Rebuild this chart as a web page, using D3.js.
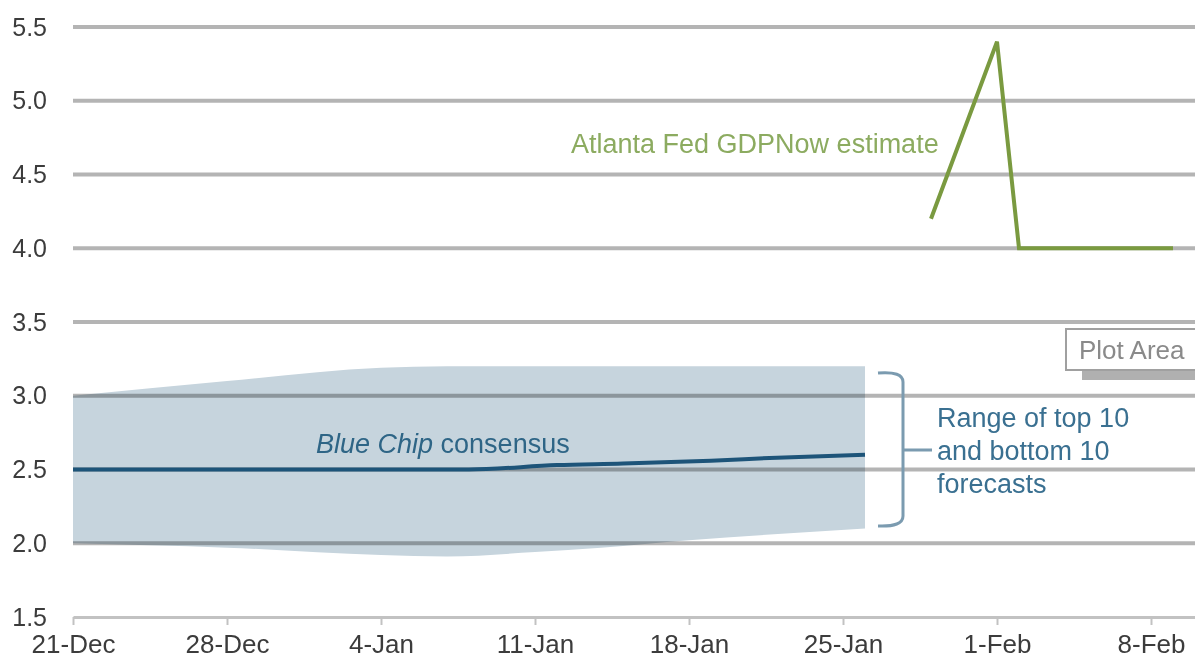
<!DOCTYPE html>
<html><head><meta charset="utf-8">
<script src="https://cdn.jsdelivr.net/npm/d3@7"></script>
<style>
html,body{margin:0;padding:0;background:#fff;}
svg{display:block;font-family:"Liberation Sans",Arial,sans-serif;}
</style></head>
<body>
<svg id="chart" width="1195" height="660"></svg>
<script>
// ---- data ----
const yTicks = [1.5, 2.0, 2.5, 3.0, 3.5, 4.0, 4.5, 5.0, 5.5];
const xTickDates = ["2015-12-21","2015-12-28","2016-01-04","2016-01-11","2016-01-18","2016-01-25","2016-02-01","2016-02-08"];

const bandDates = ["2015-12-21","2015-12-28","2016-01-04","2016-01-07","2016-01-11","2016-01-14","2016-01-18","2016-01-26"];
const bandHigh  = [3.0, 3.1, 3.19, 3.2, 3.2, 3.2, 3.2, 3.2];
const bandLow   = [2.0, 1.97, 1.92, 1.91, 1.94, 1.97, 2.02, 2.1];

const blueChipDates  = ["2015-12-21","2016-01-08","2016-01-12","2016-01-15","2016-01-19","2016-01-22","2016-01-26"];
const blueChipValues = [2.5, 2.5, 2.53, 2.54, 2.56, 2.58, 2.6];

const gdpNowDates  = ["2016-01-29","2016-02-01","2016-02-02","2016-02-05","2016-02-09"];
const gdpNowValues = [4.2, 5.4, 4.0, 4.0, 4.0];

// ---- scales ----
const parse = d3.utcParse("%Y-%m-%d");
const svg = d3.select("#chart");
const x = d3.scaleUtc().domain([parse("2015-12-21"), parse("2016-02-10")]).range([73, 1195]);
const y = d3.scaleLinear().domain([1.5, 5.5]).range([617, 27]);

// band
const band = bandDates.map((d,i)=>({d:parse(d), hi:bandHigh[i], lo:bandLow[i]}));
svg.append("path")
  .datum(band)
  .attr("fill", "#c6d4dd")
  .attr("d", d3.area().x(d=>x(d.d)).y0(d=>y(d.lo)).y1(d=>y(d.hi)).curve(d3.curveMonotoneX));

// gridlines
svg.append("g").selectAll("line")
  .data(yTicks.filter(v=>v>1.5))
  .join("line")
  .attr("x1", x.range()[0]).attr("x2", x.range()[1])
  .attr("y1", d=>y(d)).attr("y2", d=>y(d))
  .attr("stroke", "#b4b4b4").attr("stroke-width", 4)
  .style("mix-blend-mode", "multiply");

// x axis
const xAxis = d3.axisBottom(x)
  .tickValues(xTickDates.map(parse))
  .tickFormat(d3.utcFormat("%-d-%b"))
  .tickSizeInner(8).tickSizeOuter(0).tickPadding(10);
const gx = svg.append("g").attr("transform", `translate(0,${y(1.5)})`).call(xAxis);
gx.select(".domain").attr("stroke", "#c2c2c2").attr("stroke-width", 3);
gx.selectAll(".tick line").attr("stroke", "#c2c2c2").attr("stroke-width", 2);
gx.selectAll(".tick text").attr("fill", "#3c3c3c").attr("font-size", 26)
  .attr("font-family", "'Liberation Sans', Arial, sans-serif");

// y axis labels
const yAxis = d3.axisLeft(y).tickValues(yTicks).tickFormat(d3.format(".1f")).tickSize(0).tickPadding(0);
const gy = svg.append("g").attr("transform", "translate(47,0)").call(yAxis);
gy.select(".domain").remove();
gy.selectAll(".tick text").attr("fill", "#3c3c3c").attr("font-size", 25)
  .attr("font-family", "'Liberation Sans', Arial, sans-serif");

// Blue Chip line
svg.append("path")
  .datum(blueChipDates.map((d,i)=>({d:parse(d), v:blueChipValues[i]})))
  .attr("fill", "none").attr("stroke", "#1d5479").attr("stroke-width", 4)
  .attr("d", d3.line().x(d=>x(d.d)).y(d=>y(d.v)).curve(d3.curveMonotoneX));

// GDPNow line
svg.append("path")
  .datum(gdpNowDates.map((d,i)=>({d:parse(d), v:gdpNowValues[i]})))
  .attr("fill", "none").attr("stroke", "#7a9a40").attr("stroke-width", 4)
  .attr("stroke-linejoin", "miter")
  .attr("d", d3.line().x(d=>x(d.d)).y(d=>y(d.v)));

// annotations
svg.append("text").attr("x", 571).attr("y", 153)
  .attr("font-size", 27).attr("fill", "#8cab60")
  .text("Atlanta Fed GDPNow estimate");

const bc = svg.append("text").attr("x", 316).attr("y", 453)
  .attr("font-size", 27).attr("fill", "#2e6586");
bc.append("tspan").attr("font-style", "italic").text("Blue Chip");
bc.append("tspan").text(" consensus");

const rangeLines = ["Range of top 10", "and bottom 10", "forecasts"];
svg.append("g").selectAll("text").data(rangeLines).join("text")
  .attr("x", 937).attr("y", (d,i)=>427 + i*33)
  .attr("font-size", 27).attr("fill", "#3a7091")
  .text(d=>d);

// bracket
svg.append("path")
  .attr("d", "M878,373 Q903,371 903,382 L903,516 Q903,527 878,526 M903,450 L932,450")
  .attr("fill", "none").attr("stroke", "#7b9bb0").attr("stroke-width", 3);

// "Plot Area" tooltip
svg.append("rect").attr("x", 1082).attr("y", 370).attr("width", 130).attr("height", 10).attr("fill", "#b0b0b0");
svg.append("rect").attr("x", 1066).attr("y", 329).attr("width", 140).attr("height", 41)
  .attr("fill", "#fff").attr("stroke", "#a0a0a0").attr("stroke-width", 2);
svg.append("text").attr("x", 1079).attr("y", 359).attr("font-size", 26).attr("fill", "#8a8a8a").text("Plot Area");
</script>
</body></html>
